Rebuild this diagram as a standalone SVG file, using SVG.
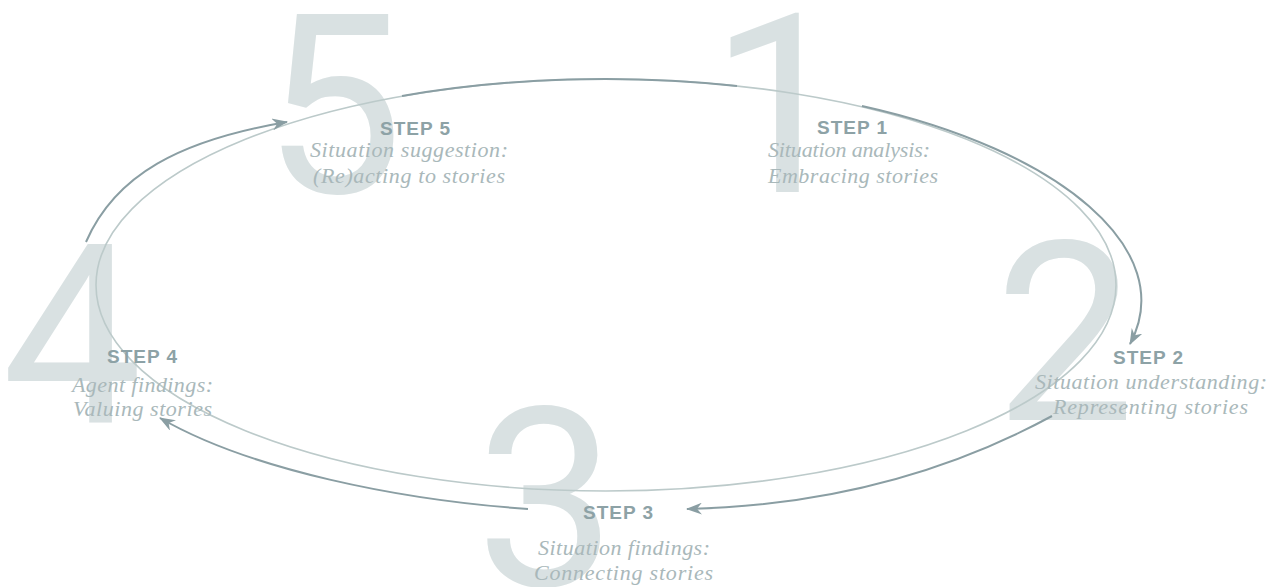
<svg xmlns="http://www.w3.org/2000/svg" width="1282" height="587" viewBox="0 0 1282 587">
<style>
.num{font-family:Roboto,"Liberation Sans",Arial,sans-serif;font-size:250px;font-weight:400;fill:#d9e1e2;text-anchor:middle}
.step{font-family:"Liberation Sans",Arial,sans-serif;font-size:19px;font-weight:bold;fill:#8da2a6;letter-spacing:1px}
.sub{font-family:"Liberation Serif","Times New Roman",serif;font-size:22px;font-style:italic;fill:#a9b8ba}
.ring{fill:none;stroke:#bccaca;stroke-width:1.6}
.arc{fill:none;stroke:#8a9ea3;stroke-width:2}
</style>
<defs>
<marker id="ah" viewBox="0 0 16 12" refX="15" refY="6" markerWidth="16" markerHeight="12" markerUnits="userSpaceOnUse" orient="auto">
<path d="M0,0 L16,6 L0,12 L5,6 z" fill="#8a9ea3"/>
</marker>
</defs>
<g id="numerals">
<text class="num" x="333" y="193">5</text>
<text class="num" x="780" y="192">1</text>
<text class="num" x="1065" y="420">2</text>
<text class="num" x="546" y="586">3</text>
<text class="num" x="72" y="422">4</text>
</g>
<g id="cycle">
<ellipse class="ring" cx="606" cy="285" rx="510" ry="206"/>
</g>
<g id="connectors">
<path class="arc" d="M402,96 A510,206 0 0 1 737,86"/>
<path class="arc" d="M862,106 C1060,150 1180,250 1130,344" marker-end="url(#ah)"/>
<path class="arc" d="M1052,416 C980,455 860,505 687,509" marker-end="url(#ah)"/>
<path class="arc" d="M528,509 C400,500 250,470 160,418" marker-end="url(#ah)"/>
<path class="arc" d="M86,242 C115,175 180,140 287,122" marker-end="url(#ah)"/>
</g>
<g id="step1">
<text class="step" x="817" y="134">STEP 1</text>
<text class="sub" x="768" y="157" textLength="162">Situation analysis:</text>
<text class="sub" x="768" y="183" textLength="170">Embracing stories</text>
</g>
<g id="step2">
<text class="step" x="1113" y="364">STEP 2</text>
<text class="sub" x="1035" y="389" textLength="232">Situation understanding:</text>
<text class="sub" x="1053" y="414" textLength="195">Representing stories</text>
</g>
<g id="step3">
<text class="step" x="583" y="519">STEP 3</text>
<text class="sub" x="538" y="555" textLength="172">Situation findings:</text>
<text class="sub" x="534" y="580" textLength="179">Connecting stories</text>
</g>
<g id="step4">
<text class="step" x="107" y="363">STEP 4</text>
<text class="sub" x="72" y="392" textLength="141">Agent findings:</text>
<text class="sub" x="73" y="416" textLength="139">Valuing stories</text>
</g>
<g id="step5">
<text class="step" x="380" y="135">STEP 5</text>
<text class="sub" x="310" y="157" textLength="198">Situation suggestion:</text>
<text class="sub" x="313" y="183" textLength="192">(Re)acting to stories</text>
</g>
</svg>
